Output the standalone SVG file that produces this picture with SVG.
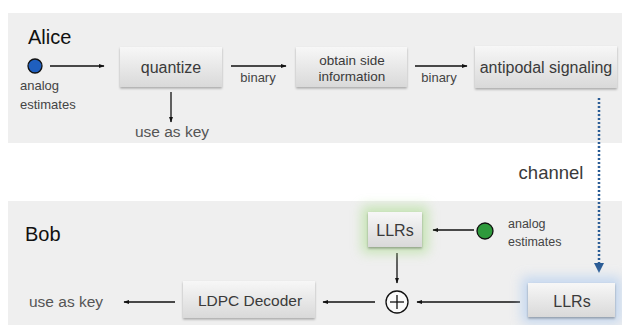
<svg xmlns="http://www.w3.org/2000/svg" width="622" height="325" viewBox="0 0 622 325">
<defs>
<linearGradient id="boxg" x1="0" y1="0" x2="0" y2="1">
<stop offset="0" stop-color="#f7f7f7"/>
<stop offset="1" stop-color="#d9d9d9"/>
</linearGradient>
<filter id="sh" x="-20%" y="-20%" width="140%" height="150%">
<feDropShadow dx="0" dy="1.5" stdDeviation="1" flood-color="#000" flood-opacity="0.3"/>
</filter>
<filter id="glowG" x="-60%" y="-60%" width="220%" height="220%">
<feGaussianBlur stdDeviation="6"/>
</filter>
<marker id="ah" viewBox="0 0 10 10" refX="9" refY="5" markerWidth="6" markerHeight="6" orient="auto-start-reverse" markerUnits="userSpaceOnUse">
<path d="M0,1.5 L10,5 L0,8.5 Z" fill="#111"/>
</marker>
</defs>
<style>
.panel{fill:#efefef}
.box{fill:url(#boxg);filter:url(#sh)}
.t{font-family:"Liberation Sans",Arial,sans-serif;fill:#3a3a3a}
.lbl{font-family:"Liberation Sans",Arial,sans-serif;fill:#444;font-size:13px}
.conn{stroke:#111;stroke-width:1.3;fill:none;marker-end:url(#ah)}
</style>
<rect x="0" y="0" width="622" height="325" fill="#ffffff"/>
<rect class="panel" x="8" y="13" width="614" height="130"/>
<rect class="panel" x="8" y="201" width="614" height="124"/>
<text class="t" x="28" y="44" font-size="20" style="fill:#111">Alice</text>
<text class="t" x="25" y="241" font-size="20" style="fill:#111">Bob</text>

<g id="connectors">
<line class="conn" x1="50" y1="66" x2="104" y2="66"/>
<line class="conn" x1="171" y1="92" x2="171" y2="122"/>
<line class="conn" x1="231" y1="66" x2="286" y2="66"/>
<line class="conn" x1="415" y1="66" x2="467" y2="66"/>
<line x1="599" y1="98" x2="599" y2="264" stroke="#2b5c95" stroke-width="2.5" stroke-dasharray="2,2" fill="none"/>
<path d="M594,263 L604,263 L599,273 Z" fill="#2b5c95"/>
<line class="conn" x1="474" y1="230" x2="433" y2="230" stroke-width="1.8"/>
<line class="conn" x1="397" y1="253" x2="397" y2="283"/>
<line class="conn" x1="520" y1="302" x2="417" y2="302"/>
<line class="conn" x1="375" y1="302" x2="323" y2="302"/>
<line class="conn" x1="175" y1="302" x2="124" y2="302"/>
</g>

<g id="alice-analog">
<circle cx="35" cy="66" r="7" fill="#1f5fbf" stroke="#111" stroke-width="1.3"/>
<text class="lbl" x="20" y="90">analog</text>
<text class="lbl" x="20" y="109">estimates</text>
</g>
<g id="quantize">
<rect class="box" x="120" y="47" width="102" height="40"/>
<text class="t" x="171" y="73" font-size="16" text-anchor="middle">quantize</text>
</g>
<g id="alice-key">
<text class="t" x="172" y="137" font-size="15.5" text-anchor="middle" style="fill:#555">use as key</text>
</g>
<text class="lbl" x="258" y="82" text-anchor="middle">binary</text>
<g id="side-info">
<rect class="box" x="296" y="47" width="111" height="40"/>
<text class="t" x="352" y="65" font-size="13.5" text-anchor="middle">obtain side</text>
<text class="t" x="352" y="81" font-size="13.5" text-anchor="middle">information</text>
</g>
<text class="lbl" x="439" y="82" text-anchor="middle">binary</text>
<g id="antipodal">
<rect class="box" x="475" y="46" width="142" height="42"/>
<text class="t" x="546" y="73" font-size="16" text-anchor="middle">antipodal signaling</text>
</g>
<g id="channel">
<text class="t" x="551" y="179" font-size="18.5" text-anchor="middle">channel</text>
</g>

<g id="llrs-green">
<rect x="362" y="206" width="66" height="47" fill="#a6dc86" opacity="0.55" filter="url(#glowG)"/>
<rect class="box" x="368" y="212" width="54" height="35"/>
<text class="t" x="395" y="236" font-size="16" text-anchor="middle">LLRs</text>
</g>
<g id="bob-analog">
<circle cx="485" cy="231" r="8" fill="#2e9a3c" stroke="#111" stroke-width="1.3"/>
<text class="lbl" x="508" y="228" style="font-size:12.5px">analog</text>
<text class="lbl" x="508" y="246" style="font-size:12.5px">estimates</text>
</g>
<g id="plus">
<circle cx="397" cy="302" r="11" fill="#fafafa" stroke="#111" stroke-width="1.3"/>
<line x1="390" y1="302" x2="404" y2="302" stroke="#111" stroke-width="1.3"/>
<line x1="397" y1="295" x2="397" y2="309" stroke="#111" stroke-width="1.3"/>
</g>
<g id="llrs-blue">
<rect x="522" y="277" width="99" height="46" fill="#aecbf0" opacity="0.65" filter="url(#glowG)"/>
<rect class="box" x="528" y="283" width="87" height="34"/>
<text class="t" x="572" y="307" font-size="16" text-anchor="middle">LLRs</text>
</g>
<g id="ldpc">
<rect class="box" x="183" y="281" width="132" height="37"/>
<text class="t" x="250" y="306" font-size="15.5" text-anchor="middle">LDPC Decoder</text>
</g>
<g id="bob-key">
<text class="t" x="29" y="307" font-size="15.5" style="fill:#555">use as key</text>
</g>
</svg>
